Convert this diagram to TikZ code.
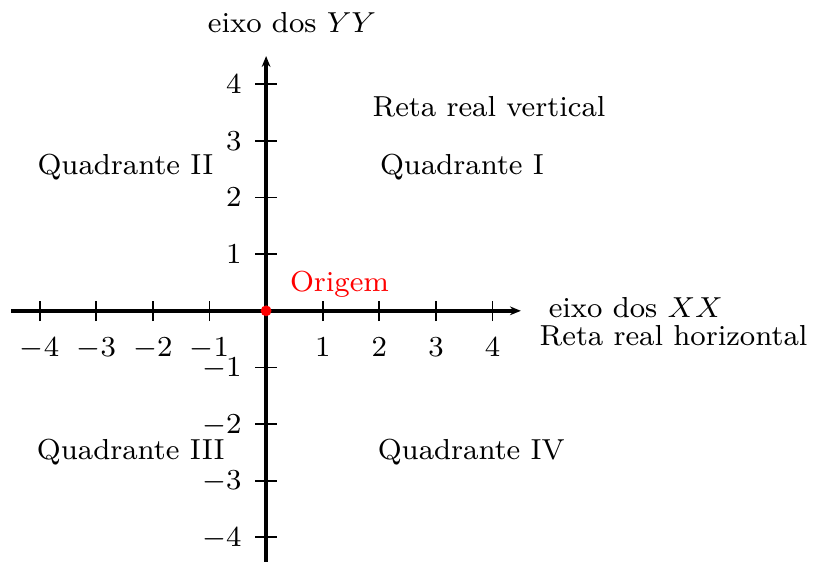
\documentclass[tikz,border=0pt]{standalone}
\usepackage{amsmath}
\usepackage{tikz}
\usetikzlibrary{arrows.meta,positioning}

\begin{document}
\begin{tikzpicture}[
  x=0.55cm, y=0.55cm,
  eixo/.style  = {-{Stealth[length=3pt,width=2.4pt]}, line width=0.95pt},
  marca/.style = {line width=0.5pt},
  xnum/.style  = {font=\footnotesize, anchor=base, inner sep=0pt},
  ynum/.style  = {font=\footnotesize, anchor=base east, inner sep=0pt},
  rot/.style   = {font=\footnotesize, anchor=base west, inner sep=0pt},
  ponto/.style = {circle, fill=red, inner sep=0pt, minimum size=3pt}
]
\useasboundingbox (-4.70,-4.43) rectangle (9.66,5.49);

% Eixos
\coordinate (xini) at (-4.5,0);
\coordinate (xfim) at (4.5,0);
\coordinate (yini) at (0,-4.6);
\coordinate (yfim) at (0,4.5);
\draw[eixo] (xini) -- (xfim);
\draw[eixo] (yini) -- (yfim);

% Marcas
\draw[marca] (-4,-0.18) -- (-4,0.18) (-3,-0.18) -- (-3,0.18) (-2,-0.18) -- (-2,0.18)
  (-1,-0.18) -- (-1,0.18) (1,-0.18) -- (1,0.18) (2,-0.18) -- (2,0.18)
  (3,-0.18) -- (3,0.18) (4,-0.18) -- (4,0.18);
\draw[marca] (-0.19,-4) -- (0.19,-4) (-0.19,-3) -- (0.19,-3) (-0.19,-2) -- (0.19,-2)
  (-0.19,-1) -- (0.19,-1) (-0.19,1) -- (0.19,1) (-0.19,2) -- (0.19,2)
  (-0.19,3) -- (0.19,3) (-0.19,4) -- (0.19,4);

% Numeros do eixo horizontal
\node[xnum] (xm4) at (-4,-0.8) {$-4$};
\node[xnum] (xm3) at (-3,-0.8) {$-3$};
\node[xnum] (xm2) at (-2,-0.8) {$-2$};
\node[xnum] (xm1) at (-1,-0.8) {$-1$};
\node[xnum] (xp1) at (1,-0.8)  {$1$};
\node[xnum] (xp2) at (2,-0.8)  {$2$};
\node[xnum] (xp3) at (3,-0.8)  {$3$};
\node[xnum] (xp4) at (4,-0.8)  {$4$};

% Numeros do eixo vertical
\node[ynum] (yp4) at (-0.42,3.84)  {$4$};
\node[ynum] (yp3) at (-0.42,2.84)  {$3$};
\node[ynum] (yp2) at (-0.42,1.84)  {$2$};
\node[ynum] (yp1) at (-0.42,0.84)  {$1$};
\node[ynum] (ym1) at (-0.42,-1.16) {$-1$};
\node[ynum] (ym2) at (-0.42,-2.16) {$-2$};
\node[ynum] (ym3) at (-0.42,-3.16) {$-3$};
\node[ynum] (ym4) at (-0.42,-4.16) {$-4$};

% Origem
\node[ponto] (orig) at (0,0) {};
\node[rot, text=red] (origem) at (0.41,0.35) {Origem};

% Nomes dos eixos
\node[rot] (eixox)  at (4.98,-0.12) {eixo dos $XX$};
\node[rot] (retah)  at (4.82,-0.62) {Reta real horizontal};
\node[rot] (eixoy)  at (-1.04,4.91) {eixo dos $YY$};
\node[rot] (retav)  at (1.87,3.43)  {Reta real vertical};

% Quadrantes
\node[rot] (q1) at (2.0,2.41)   {Quadrante I};
\node[rot] (q2) at (-4.05,2.41) {Quadrante II};
\node[rot] (q3) at (-4.06,-2.63) {Quadrante III};
\node[rot] (q4) at (1.96,-2.63)  {Quadrante IV};

\end{tikzpicture}
\end{document}
